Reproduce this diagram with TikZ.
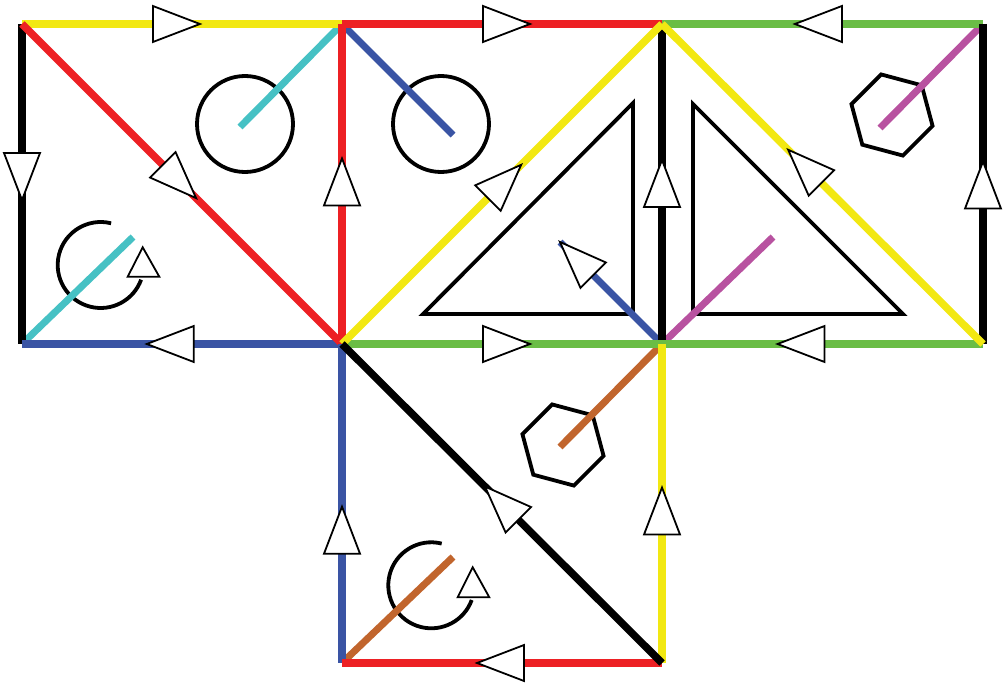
\documentclass[tikz,border=0pt]{standalone}
\usepackage{tikz}
\definecolor{cubered}{RGB}{237,32,36}
\definecolor{cubeyellow}{RGB}{242,232,18}
\definecolor{cubeblue}{RGB}{58,84,164}
\definecolor{cubegreen}{RGB}{106,189,69}
\definecolor{cubecyan}{RGB}{70,193,196}
\definecolor{cubepink}{RGB}{184,82,160}
\definecolor{cubeorange}{RGB}{193,101,45}

\begin{document}
\begin{tikzpicture}[x=1pt, y=-1pt,
  edge/.style={line width=7.5pt},
  spoke/.style={line width=7pt},
  outline/.style={draw=black, line width=3.8pt},
  tip/.style={draw=black, fill=white, line width=1.8pt},
  flag/.pic={\draw[tip] (0,0) -- (-47,18) -- (-47,-18) -- cycle;}]
 \useasboundingbox (0,0) rectangle (1005,685);
 \foreach \n/\x/\y in {A/22/24, B/342/24, C/662/24, D/983/24, E/22/344, F/342/344, G/662/344, H/983/344, I/342/663, J/662/663}
   \coordinate (\n) at (\x,\y);
 \foreach \n/\x/\y in {cy1/240/127, cy2/133/237, bl1/453/135, bl2/560/242, pk1/880/128, pk2/773/237, or1/560/447, or2/453/557}
   \coordinate (\n) at (\x,\y);

 \draw[outline] (245,124) circle (48);
 \draw[outline] (441,124) circle (48);
 \draw[outline] (423,314) -- (633,314) -- (633,103) -- cycle;
 \draw[outline] (693,104) -- (693,314) -- (903,314) -- cycle;
 \foreach \c in {(892,115), (563,445)}
   \draw[outline] \c +(15:42) \foreach \a in {75,135,...,315}{ -- +(\a:42)} -- cycle;
 \draw[outline] (100.7,265) ++(-76:43) arc[start angle=-76, end angle=-340, radius=43];
 \draw[outline] (431.3,585.3) ++(-76:43) arc[start angle=-76, end angle=-340, radius=43];

 \foreach \p/\q/\c in {B/cy1/cubecyan, E/cy2/cubecyan, B/bl1/cubeblue, G/bl2/cubeblue, D/pk1/cubepink, G/pk2/cubepink, G/or1/cubeorange, I/or2/cubeorange}
   \draw[spoke, \c] (\p) -- (\q);

 \foreach \p/\q/\c in {A/B/cubeyellow, B/C/cubered, C/D/cubegreen, A/E/black, B/F/cubered, C/G/black, D/H/black, E/F/cubeblue, F/G/cubegreen, G/H/cubegreen, A/F/cubered, F/C/cubeyellow, C/H/cubeyellow, F/I/cubeblue, G/J/cubeyellow, I/J/cubered, F/J/black}
   \draw[edge, \c] (\p) -- (\q);

 \foreach \p/\q/\t in {A/B/.556, B/C/.5875, D/C/.586, A/E/.55, F/B/.58, G/C/.575, H/D/.57, F/E/.61, F/G/.5875, H/G/.64, A/F/.544, F/C/.56, H/C/.607, I/F/.49, J/G/.55, J/I/.578, J/F/.553, G/bl2/1}
   \path (\p) -- (\q) pic[pos=\t, sloped, allow upside down]{flag};
 \draw[tip] (142.7,247.3) -- (159.3,276.7) -- (127.7,276.7) -- cycle;
 \draw[tip] (472.7,567.3) -- (489.3,597.3) -- (457.7,597.3) -- cycle;
\end{tikzpicture}
\end{document}
